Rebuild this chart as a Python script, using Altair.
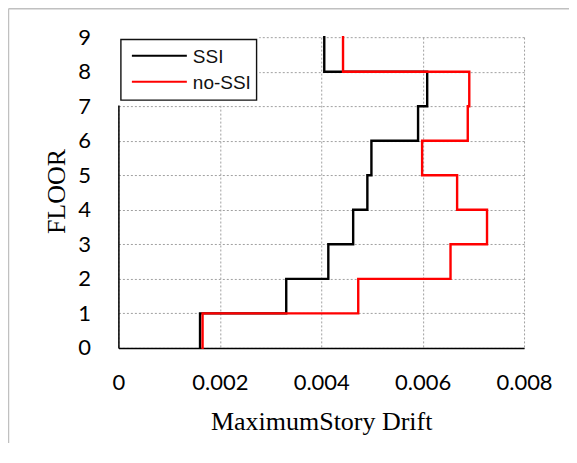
import altair as alt
import pandas as pd

# ---- data ----
floor_levels = [0, 1, 2, 3, 4, 5, 6, 7, 8, 9]
ssi_drift = [0.00161, 0.00331, 0.00414, 0.00463, 0.00491, 0.00499, 0.00591, 0.00609, 0.00406]
nossi_drift = [0.00166, 0.00473, 0.00655, 0.00727, 0.00668, 0.00599, 0.00689, 0.00692, 0.00443]
series_names = ["SSI", "no-SSI"]
series_colors = ["#000000", "#ff0000"]
x_ticks = [0, 0.002, 0.004, 0.006, 0.008]


def step_table(values, name):
    rows = []
    k = 0
    for i, v in enumerate(values):
        rows.append({"drift": v, "floor": floor_levels[i], "order": k, "series": name})
        k += 1
        rows.append({"drift": v, "floor": floor_levels[i + 1], "order": k, "series": name})
        k += 1
    return pd.DataFrame(rows)


ssi_df = step_table(ssi_drift, series_names[0])
nossi_df = step_table(nossi_drift, series_names[1])

x_enc = alt.X(
    "drift:Q",
    scale=alt.Scale(domain=[0, 0.008], nice=False, zero=False),
    axis=alt.Axis(
        values=x_ticks,
        format="~g",
        title="MaximumStory Drift",
        labelPadding=25,
        labelFlush=False,
        titleBaseline="alphabetic",
        titleY=82,
        titleAlign="center",
    ),
)
y_enc = alt.Y(
    "floor:Q",
    scale=alt.Scale(domain=[0, 9], nice=False, zero=False),
    axis=alt.Axis(
        values=floor_levels,
        title="FLOOR",
        labelPadding=28,
        labelFlush=False,
        titleBaseline="alphabetic",
        titleAngle=270,
        titleX=-53.5,
        titleY=154,
        titleAlign="center",
    ),
)

line_ssi = alt.Chart(ssi_df).mark_line(
    color=series_colors[0], strokeWidth=2.4, strokeJoin="miter", strokeCap="square"
).encode(x=x_enc, y=y_enc, order="order:Q")

line_nossi = alt.Chart(nossi_df).mark_line(
    color=series_colors[1], strokeWidth=2.4, strokeJoin="miter", strokeCap="square"
).encode(x=x_enc, y=y_enc, order="order:Q")

blank = alt.Data(values=[{}])

# legend (drawn inside the plot, top-left)
legend_cover = alt.Chart(blank).mark_rect(fill="white", strokeWidth=0).encode(
    x=alt.value(-3), x2=alt.value(141), y=alt.value(-3), y2=alt.value(68.3)
)
legend_box = alt.Chart(blank).mark_rect(
    fill="white", stroke="#111111", strokeWidth=1.4
).encode(x=alt.value(2.5), x2=alt.value(138.3), y=alt.value(2.3), y2=alt.value(63))

legend_layers = [legend_cover, legend_box]
legend_rows = [18.7, 44.7]
for name, col, ry in zip(series_names, series_colors, legend_rows):
    legend_layers.append(
        alt.Chart(blank).mark_rule(color=col, strokeWidth=2).encode(
            x=alt.value(13.5), x2=alt.value(68.5), y=alt.value(ry)
        )
    )
    legend_layers.append(
        alt.Chart(blank).mark_text(
            text=name, font="Liberation Sans", fontSize=19, color="#111111",
            align="left", baseline="middle"
        ).encode(x=alt.value(74.5), y=alt.value(ry + 1.5))
    )

# thin outer frame of the figure
frame_top = alt.Chart(blank).mark_rule(color="#c0c0c0", strokeWidth=1.5).encode(
    x=alt.value(-110), x2=alt.value(470), y=alt.value(-28.5)
)
frame_left = alt.Chart(blank).mark_rule(color="#c0c0c0", strokeWidth=1.5).encode(
    x=alt.value(-110), y=alt.value(-28.5), y2=alt.value(430)
)

chart = alt.layer(
    line_ssi, line_nossi, *legend_layers, frame_top, frame_left
).properties(
    width=406,
    height=311,
    autosize=alt.AutoSizeParams(type="none"),
    padding={"left": 110.5, "top": 29, "right": 45, "bottom": 95},
).configure_view(strokeWidth=0).configure_axis(
    domain=True,
    domainColor="#000000",
    domainWidth=1.5,
    ticks=False,
    grid=True,
    gridColor="#a0a0a0",
    gridDash=[2, 2],
    gridWidth=1,
    labelFont="Lato",
    labelFontSize=22,
    labelColor="#000000",
    titleFont="Liberation Serif",
    titleFontSize=26,
    titleFontWeight="normal",
    titleColor="#000000",
    zindex=0,
)

chart.save("out.html", embed_options={"renderer": "svg", "actions": False})
